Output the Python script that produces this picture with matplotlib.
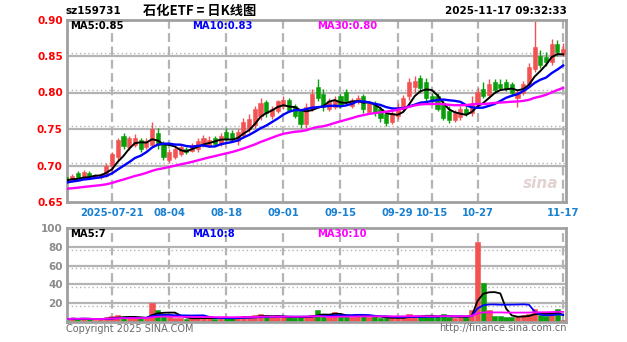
import matplotlib
matplotlib.use("Agg")
import matplotlib.pyplot as plt
import numpy as np
import pandas as pd

# ---------------- data ----------------
dates = ["07-09", "07-10", "07-11", "07-14", "07-15", "07-16", "07-17", "07-18",
         "07-21", "07-22", "07-23", "07-24", "07-25", "07-28", "07-29", "07-30", "07-31",
         "08-01", "08-04", "08-05", "08-06", "08-07", "08-08", "08-11", "08-12", "08-13",
         "08-14", "08-15", "08-18", "08-19", "08-20", "08-21", "08-22", "08-25", "08-26",
         "08-27", "08-28", "08-29", "09-01", "09-02", "09-03", "09-04", "09-05", "09-08",
         "09-09", "09-10", "09-11", "09-12", "09-15", "09-16", "09-17", "09-18", "09-19",
         "09-22", "09-23", "09-24", "09-25", "09-26", "09-29", "09-30", "10-09", "10-10",
         "10-13", "10-14", "10-15", "10-16", "10-17", "10-20", "10-21", "10-22", "10-23",
         "10-24", "10-27", "10-28", "10-29", "10-30", "10-31", "11-03", "11-04", "11-05",
         "11-06", "11-07", "11-10", "11-11", "11-12", "11-13", "11-14", "11-17"]

open_ = [0.684, 0.679, 0.690, 0.683, 0.690, 0.684, 0.684, 0.686,
         0.700, 0.712, 0.741, 0.725, 0.728, 0.735, 0.726, 0.728, 0.745,
         0.730, 0.708, 0.712, 0.716, 0.722, 0.720, 0.722, 0.729, 0.728,
         0.737, 0.730, 0.746, 0.744, 0.733, 0.742, 0.750, 0.755, 0.768,
         0.787, 0.768, 0.775, 0.781, 0.790, 0.781, 0.775, 0.757, 0.778,
         0.808, 0.798, 0.778, 0.780, 0.795, 0.800, 0.782, 0.787, 0.795,
         0.773, 0.785, 0.777, 0.770, 0.760, 0.768, 0.778, 0.795, 0.808,
         0.820, 0.815, 0.795, 0.795, 0.785, 0.775, 0.763, 0.766, 0.778,
         0.772, 0.785, 0.805, 0.797, 0.815, 0.812, 0.815, 0.812, 0.792,
         0.800, 0.812, 0.832, 0.850, 0.848, 0.842, 0.866, 0.853]
high = [0.686, 0.688, 0.693, 0.694, 0.693, 0.689, 0.690, 0.703,
        0.718, 0.738, 0.744, 0.741, 0.743, 0.738, 0.737, 0.760, 0.752,
        0.733, 0.722, 0.726, 0.728, 0.726, 0.731, 0.738, 0.742, 0.740,
        0.741, 0.744, 0.752, 0.748, 0.750, 0.765, 0.770, 0.782, 0.792,
        0.790, 0.782, 0.790, 0.795, 0.793, 0.784, 0.777, 0.785, 0.805,
        0.819, 0.805, 0.792, 0.795, 0.798, 0.805, 0.793, 0.797, 0.798,
        0.789, 0.788, 0.781, 0.772, 0.778, 0.786, 0.797, 0.820, 0.822,
        0.824, 0.820, 0.800, 0.800, 0.790, 0.782, 0.776, 0.781, 0.783,
        0.795, 0.806, 0.815, 0.818, 0.818, 0.818, 0.818, 0.815, 0.804,
        0.816, 0.840, 0.898, 0.858, 0.855, 0.873, 0.872, 0.868]
low = [0.675, 0.677, 0.680, 0.681, 0.682, 0.683, 0.682, 0.684,
       0.690, 0.708, 0.722, 0.721, 0.725, 0.719, 0.723, 0.726, 0.722,
       0.707, 0.703, 0.709, 0.713, 0.716, 0.718, 0.719, 0.726, 0.725,
       0.727, 0.727, 0.733, 0.733, 0.728, 0.738, 0.746, 0.752, 0.762,
       0.767, 0.764, 0.772, 0.778, 0.773, 0.765, 0.752, 0.752, 0.775,
       0.788, 0.775, 0.775, 0.777, 0.779, 0.785, 0.779, 0.784, 0.772,
       0.770, 0.768, 0.760, 0.754, 0.757, 0.764, 0.775, 0.790, 0.800,
       0.800, 0.788, 0.785, 0.774, 0.762, 0.758, 0.760, 0.763, 0.768,
       0.768, 0.780, 0.792, 0.795, 0.800, 0.803, 0.802, 0.795, 0.780,
       0.797, 0.808, 0.828, 0.833, 0.836, 0.838, 0.850, 0.850]
close = [0.677, 0.686, 0.682, 0.691, 0.684, 0.687, 0.688, 0.700,
         0.716, 0.735, 0.727, 0.737, 0.738, 0.722, 0.733, 0.750, 0.728,
         0.712, 0.718, 0.722, 0.725, 0.719, 0.728, 0.734, 0.738, 0.735,
         0.730, 0.740, 0.736, 0.736, 0.746, 0.760, 0.764, 0.778, 0.785,
         0.772, 0.778, 0.788, 0.790, 0.776, 0.768, 0.757, 0.780, 0.798,
         0.792, 0.780, 0.788, 0.790, 0.782, 0.788, 0.790, 0.792, 0.778,
         0.785, 0.772, 0.765, 0.758, 0.772, 0.780, 0.792, 0.815, 0.816,
         0.806, 0.792, 0.788, 0.778, 0.765, 0.762, 0.772, 0.778, 0.770,
         0.785, 0.800, 0.795, 0.812, 0.804, 0.806, 0.805, 0.800, 0.800,
         0.812, 0.835, 0.862, 0.838, 0.842, 0.866, 0.855, 0.860]
# closes before the visible window (only used so moving averages start correctly)
pre_close = [0.662, 0.660, 0.661, 0.659, 0.662, 0.664, 0.663, 0.661, 0.660, 0.662,
             0.664, 0.666, 0.665, 0.663, 0.664, 0.666, 0.668, 0.667, 0.669, 0.671,
             0.670, 0.672, 0.674, 0.676, 0.675, 0.678, 0.680, 0.682, 0.681]

volume = [3, 4, 3, 4, 3, 2, 3, 5,
          6, 7, 5, 4, 5, 4, 4, 20, 13,
          8, 5, 4, 4, 3, 4, 5, 5, 4,
          3, 4, 5, 4, 5, 6, 5, 7, 8,
          6, 5, 6, 5, 5, 4, 6, 6, 7,
          13, 8, 5, 11, 6, 6, 5, 9, 6,
          5, 5, 4, 4, 5, 4, 5, 9, 6,
          6, 7, 5, 5, 9, 5, 4, 5, 5,
          13, 85, 42, 13, 6, 6, 5, 5, 6,
          7, 9, 14, 7, 6, 8, 14, 2]

tick_dates = ["07-21", "08-04", "08-18", "09-01", "09-15", "09-29", "10-15", "10-27", "11-17"]
tick_labels = ["2025-07-21", "08-04", "08-18", "09-01", "09-15", "09-29", "10-15", "10-27", "11-17"]
price_ticks = [0.65, 0.70, 0.75, 0.80, 0.85, 0.90]
vol_ticks = [20, 40, 60, 80, 100]

code_text = "sz159731"
title_text = "石化ETF = 日K线图"
time_text = "2025-11-17 09:32:33"
price_ma_labels = ["MA5:0.85", "MA10:0.83", "MA30:0.80"]
vol_ma_labels = ["MA5:7", "MA10:8", "MA30:10"]

# ---------------- styles ----------------
RED = "#f25252"
GREEN = "#0a9e0a"
MA_COLORS = ["black", "#0000ff", "#ff00ff"]
GRID = "#b4b4b4"
FRAME = "#a0a0a0"
W, H = 627, 342

fig = plt.figure(figsize=(W / 100, H / 100), dpi=100)
fig.patch.set_facecolor("white")


def fx(px):
    return px / W


def fy(py):
    return 1 - py / H


ax = fig.add_axes([fx(67), fy(202), fx(566) - fx(67), fy(19.5) - fy(202)])
axv = fig.add_axes([fx(67), fy(322), fx(566) - fx(67), fy(228) - fy(322)])

n = len(dates)
x = np.arange(n)
o = np.array(open_)
c = np.array(close)
hi = np.array(high)
lo = np.array(low)
up = c >= o
cols = np.where(up, RED, GREEN)

tick_pos = [dates.index(d) for d in tick_dates]
xlim = (0.1, n - 0.5)

# ---- main panel grid ----
for lv in price_ticks[1:-1]:
    ax.axhline(lv, color=GRID, lw=1.6, zorder=0)
    ax.axhline(lv + 0.0037, color=GRID, lw=1.0, ls=(0, (1, 2)), zorder=0)
for tp in tick_pos:
    ax.axvline(tp, color=GRID, lw=1.6, ls=(0, (4, 2)), zorder=0)

# candles
ax.vlines(x, lo, hi, colors=cols, lw=1.0, zorder=2)
body = np.maximum(np.abs(c - o), 0.0012)
ax.bar(x, body, bottom=np.minimum(o, c), width=0.72, color=cols, edgecolor=cols,
       lw=0.4, zorder=3)

# moving averages
full = pd.Series(pre_close + close)
k0 = len(pre_close)
for win, col, lw in zip([5, 10, 30], MA_COLORS, [1.4, 1.7, 1.7]):
    ma = full.rolling(win, min_periods=1).mean().iloc[k0:].to_numpy()
    ax.plot(x, ma, color=col, lw=lw, zorder=4)

ax.set_xlim(*xlim)
ax.set_ylim(0.65, 0.90)
ax.set_yticks(price_ticks)
ax.set_yticklabels([f"{v:.2f}" for v in price_ticks], color="red", fontsize=7.5,
                   fontweight="bold")
ax.set_xticks(tick_pos)
ax.set_xticklabels(tick_labels, color="#1a80d0", fontsize=7.2, fontweight="bold")
ax.tick_params(length=0, pad=3)
ax.tick_params(axis="x", pad=4)
for sp in ax.spines.values():
    sp.set_color(FRAME)
    sp.set_linewidth(2)

# sina watermark
ax.text(0.985, 0.06, "sina", transform=ax.transAxes, ha="right", va="bottom",
        fontsize=11, fontweight="bold", fontstyle="italic", color="#e2d2d2", zorder=1)

# ---- volume panel ----
for lv in vol_ticks[:-1]:
    axv.axhline(lv, color=GRID, lw=1.6, zorder=0)
    axv.axhline(lv - 3, color=GRID, lw=1.0, ls=(0, (1, 2)), zorder=0)
for tp in tick_pos:
    axv.axvline(tp, color=GRID, lw=1.6, ls=(0, (4, 2)), zorder=0)

axv.bar(x, volume, width=0.92, color=cols, edgecolor=cols, lw=0.4, zorder=2)
vs = pd.Series(volume, dtype=float)
for win, col in zip([5, 10, 30], MA_COLORS):
    vma = vs.rolling(win, min_periods=1).mean().to_numpy()
    axv.plot(x, vma, color=col, lw=1.3, zorder=3)

axv.set_xlim(*xlim)
axv.set_ylim(0, 100)
axv.set_yticks(vol_ticks)
axv.set_yticklabels([str(v) for v in vol_ticks], color="#8c8c8c", fontsize=7.5,
                    fontweight="bold")
axv.set_xticks([])
axv.tick_params(length=0, pad=3)
for sp in axv.spines.values():
    sp.set_color(FRAME)
    sp.set_linewidth(2)

# ---- header & labels ----
fig.text(fx(66), fy(11), code_text, fontsize=7.5, fontweight="bold", va="center",
         ha="left", color="black")
fig.text(fx(200), fy(11), title_text, fontsize=9.5, fontweight="bold", va="center",
         ha="center", color="black", family=["Noto Sans CJK SC", "DejaVu Sans"])
fig.text(fx(567), fy(11), time_text, fontsize=7.5, fontweight="bold", va="center",
         ha="right", color="black")

for lab, col, px in zip(price_ma_labels, MA_COLORS, [70, 192, 317]):
    fig.text(fx(px), fy(26), lab, fontsize=7.2, fontweight="bold", color=col,
             va="center", ha="left")
for lab, col, px in zip(vol_ma_labels, MA_COLORS, [70, 192, 317]):
    fig.text(fx(px), fy(234), lab, fontsize=7.2, fontweight="bold", color=col,
             va="center", ha="left")

fig.text(fx(66), fy(329), "Copyright 2025 SINA.COM", fontsize=7, color="#6a6a6a",
         va="center", ha="left")
fig.text(fx(567), fy(328), "http://finance.sina.com.cn", fontsize=7, color="#6a6a6a",
         va="center", ha="right")

fig.savefig("out.png", dpi=100, facecolor="white")
